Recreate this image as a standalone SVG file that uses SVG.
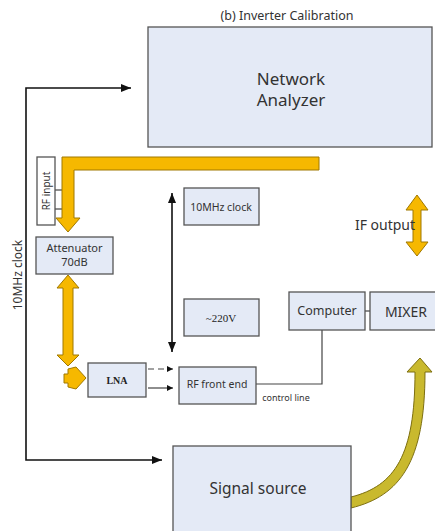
<svg xmlns="http://www.w3.org/2000/svg" width="435" height="531" viewBox="0 0 435 531">
<defs>
<style>
.box{fill:#e4eaf6;stroke:#555;stroke-width:1.3}
.wbox{fill:#fff;stroke:#555;stroke-width:1.3}
.t{font-family:"Noto Sans","Open Sans",sans-serif;fill:#333;text-anchor:middle}
.s{font-family:"Liberation Serif",serif;fill:#222;text-anchor:middle}
.ln{stroke:#111;stroke-width:1.6;fill:none}
.thin{stroke:#444;stroke-width:1.2;fill:none}
.yel{fill:#f6b800;stroke:#a07800;stroke-width:1}
.olive{fill:#c9b92e;stroke:#7d6f10;stroke-width:1}
</style>
<marker id="ah" viewBox="0 0 10 10" refX="10" refY="5" markerWidth="6" markerHeight="6" orient="auto-start-reverse" markerUnits="userSpaceOnUse">
<path d="M0,0 L10,5 L0,10 z" fill="#111"/>
</marker>
<marker id="ahb" viewBox="0 0 10 10" refX="10" refY="5" markerWidth="10" markerHeight="10" orient="auto-start-reverse" markerUnits="userSpaceOnUse">
<path d="M0,1 L10,5 L0,9 z" fill="#111"/>
</marker>
</defs>
<rect width="435" height="531" fill="#fff"/>
<text class="t" x="287" y="20" font-size="12.5">(b) Inverter Calibration</text>

<g id="connectors">
<polyline class="ln" points="131,88 26,88 26,460 162,460" marker-start="url(#ahb)" marker-end="url(#ahb)"/>
<text class="t" font-size="12" transform="translate(22,275) rotate(-90)">10MHz clock</text>
<line class="ln" x1="172" y1="193" x2="172" y2="352" marker-start="url(#ahb)" marker-end="url(#ahb)"/>
<line class="thin" x1="148" y1="369" x2="173" y2="369" stroke-dasharray="6,4" marker-end="url(#ah)"/>
<line class="thin" x1="148" y1="388" x2="173" y2="388" marker-end="url(#ah)"/>
<polyline class="thin" points="256,384 322,384 322,330"/>
<text class="t" x="286" y="401" font-size="9">control line</text>
<line class="thin" x1="365" y1="311" x2="370" y2="311"/>
<line class="thin" x1="55" y1="190" x2="62" y2="190"/>
<line class="thin" x1="55" y1="209" x2="62" y2="209"/>
<path class="yel" d="M68,232 L56,218 L62,218 L62,157 L319,157 L319,170 L74,170 L74,218 L80,218 Z"/>
<path class="yel" d="M68,275 L79,288 L73,288 L73,355 L79,355 L68,366 L57,355 L63,355 L63,288 L57,288 Z"/>
<path class="yel" d="M64,374 L68,374 L68,369 L76,367 L86,378 L76,389 L68,387 L68,383 L64,383 Z"/>
<path class="yel" d="M417,195 L428,210 L421,210 L421,242 L428,242 L417,256 L406,242 L413,242 L413,210 L406,210 Z"/>
<path class="olive" d="M351,508 C400,496 425,462 425,372 L432,372 L420,358 L407,372 L415,372 C415,455 395,486 351,497 Z"/>
</g>

<g id="network-analyzer">
<rect class="box" x="148" y="27" width="284" height="120"/>
<text class="t" x="291" y="85" font-size="17">Network</text>
<text class="t" x="291" y="106" font-size="17">Analyzer</text>
</g>
<g id="rf-input">
<rect class="wbox" x="37" y="157" width="18" height="68"/>
<text class="t" font-size="10" transform="translate(49.5,191) rotate(-90)">RF input</text>
</g>
<g id="attenuator">
<rect class="box" x="36" y="237" width="77" height="37"/>
<text class="t" x="74.5" y="252" font-size="11">Attenuator</text>
<text class="t" x="74.5" y="266" font-size="11">70dB</text>
</g>
<g id="lna">
<rect class="box" x="88" y="363" width="58" height="34"/>
<text class="s" x="117" y="384" font-size="10" font-weight="bold">LNA</text>
</g>
<g id="rf-front-end">
<rect class="box" x="179" y="367" width="77" height="37"/>
<text class="t" x="217" y="388" font-size="10.5">RF front end</text>
</g>
<g id="clock-10mhz">
<rect class="box" x="184" y="188" width="75" height="37"/>
<text class="t" x="221" y="211" font-size="10.5">10MHz clock</text>
</g>
<g id="v220">
<rect class="box" x="184" y="299" width="75" height="37"/>
<text class="s" x="221" y="322" font-size="11">~220V</text>
</g>
<g id="computer">
<rect class="box" x="289" y="292" width="76" height="38"/>
<text class="t" x="327" y="315" font-size="12.5">Computer</text>
</g>
<g id="mixer">
<rect class="box" x="370" y="292" width="70" height="38"/>
<text class="t" x="406" y="317" font-size="14">MIXER</text>
</g>
<g id="if-output">
<text class="t" x="385" y="230" font-size="14">IF output</text>
</g>
<g id="signal-source">
<rect class="box" x="173" y="446" width="178" height="90"/>
<text class="t" x="258" y="494" font-size="15.5">Signal source</text>
</g>
</svg>
